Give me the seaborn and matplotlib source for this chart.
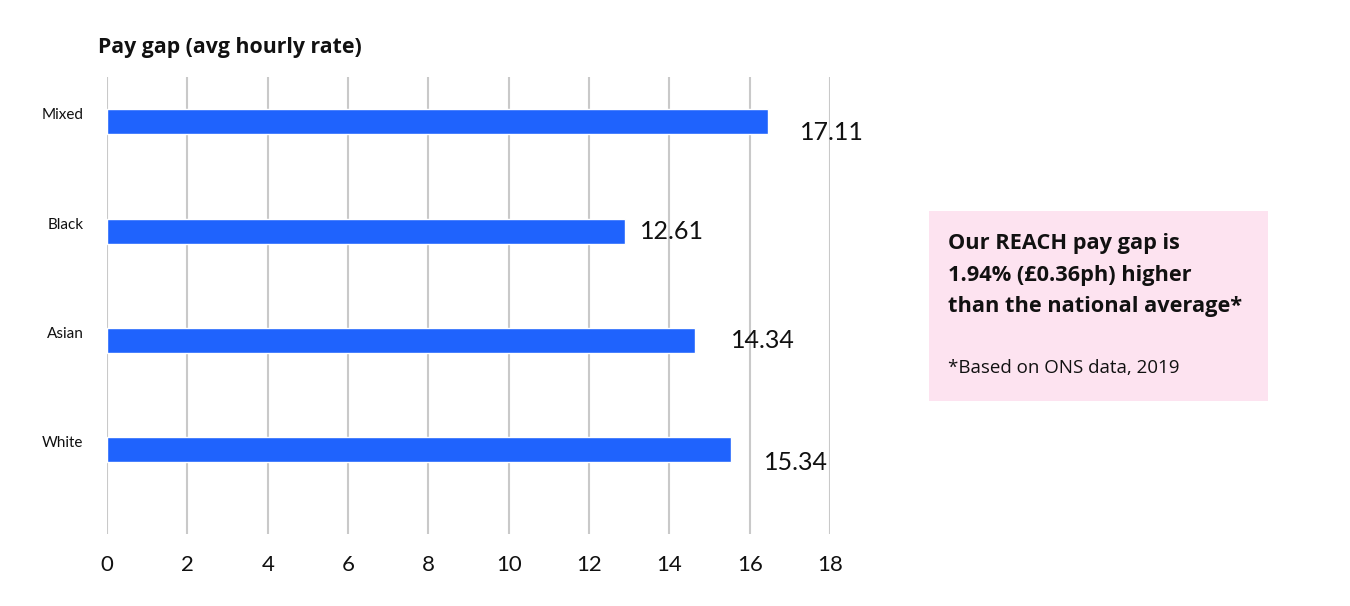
# pay gap chart - horizontal bars with a pink callout box
import matplotlib
matplotlib.use("Agg")
import matplotlib.pyplot as plt
import matplotlib.transforms as mtransforms
import pandas as pd
import seaborn as sns

# data
groups = ["Mixed", "Black", "Asian", "White"]
bar_lengths = [16.46, 12.9, 14.64, 15.53]
value_labels = ["17.11", "12.61", "14.34", "15.34"]
x_ticks = [0, 2, 4, 6, 8, 10, 12, 14, 16, 18]

title = "Pay gap (avg hourly rate)"
box_lines = "Our REACH pay gap is\n1.94% (£0.36ph) higher\nthan the national average*"
box_note = "*Based on ONS data, 2019"

# label nudges (points) so they sit like in the original
label_dx = [23, 11, 26, 24]
label_dy = [-8, 0, 0, -9]

df = pd.DataFrame({"group": groups, "value": bar_lengths})

sns.set_style("white")
plt.rcParams["font.family"] = ["Lato", "DejaVu Sans"]
wide = ["Open Sans", "DejaVu Sans"]

fig = plt.figure(figsize=(13.5, 6.06), dpi=100)
ax = fig.add_axes([0.0793, 0.1188, 0.5355, 0.7541])

sns.barplot(data=df, x="value", y="group", orient="h", color="#1f63fd",
            width=0.23, saturation=1, ax=ax)

ax.set_xlim(0, 18)
ax.set_ylim(3.77, -0.41)
ax.set_xticks(x_ticks)
ax.set_xticklabels([str(t) for t in x_ticks], fontsize=16)
ax.grid(axis="x", color="#c9c9c9", linewidth=1.5)
ax.grid(axis="y", visible=False)
ax.set_axisbelow(True)
for s in ax.spines.values():
    s.set_visible(False)
ax.tick_params(axis="x", length=0, pad=15, colors="#111111")
ax.tick_params(axis="y", length=0, pad=17, labelsize=11, colors="#111111")
ax.set_xlabel("")
ax.set_ylabel("")

# y labels sit a little above the bar centre
shift = mtransforms.ScaledTranslation(0, 8 / 100, fig.dpi_scale_trans)
for lbl in ax.get_yticklabels():
    lbl.set_transform(lbl.get_transform() + shift)

# value labels next to the bars
for i, (v, txt) in enumerate(zip(bar_lengths, value_labels)):
    ax.annotate(txt, xy=(v, i), xytext=(label_dx[i], label_dy[i]),
                textcoords="offset points", ha="left", va="center",
                fontsize=18, color="#111111")

fig.text(98 / 1350, 1 - 47 / 606, title, fontsize=15.3, fontweight="bold",
         family=wide, ha="left", va="center", color="#111111")

# pink callout box
box = plt.Rectangle((929 / 1350, 1 - 401 / 606), 339 / 1350, 190 / 606,
                    transform=fig.transFigure, facecolor="#fde3f0",
                    edgecolor="none", zorder=0)
fig.patches.append(box)
fig.text(948 / 1350, 1 - 275 / 606, box_lines, fontsize=15.7, fontweight="bold",
         family=wide, ha="left", va="center", linespacing=1.64, color="#111111")
fig.text(948 / 1350, 1 - 368 / 606, box_note, fontsize=13.5,
         family=wide, ha="left", va="center", color="#111111")

fig.savefig("out.png", dpi=100)
